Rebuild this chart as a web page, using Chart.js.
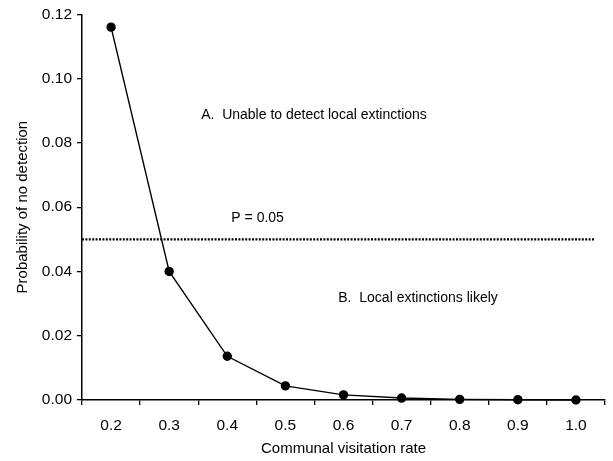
<!DOCTYPE html>
<html>
<head>
<meta charset="utf-8">
<script src="https://cdn.jsdelivr.net/npm/chart.js@4.4.1/dist/chart.umd.min.js"></script>
<style>
  html, body { margin: 0; padding: 0; background: #fff; }
  #wrap { width: 613px; height: 461px; }
</style>
</head>
<body>
<div id="wrap"><canvas id="myChart"></canvas></div>
<script>
// values
const rates = ["0.2", "0.3", "0.4", "0.5", "0.6", "0.7", "0.8", "0.9", "1.0"];
const probNoDetection = [0.116, 0.040, 0.0136, 0.0044, 0.0016, 0.0006, 0.0002, 0.0001, 0.0000];
const yTicks = [0, 0.02, 0.04, 0.06, 0.08, 0.1, 0.12];
const threshold = 0.05;
const thresholdLabel = "P = 0.05";
const regionA = "A.  Unable to detect local extinctions";
const regionB = "B.  Local extinctions likely";

const fontFamily = "'Liberation Sans', Arial, sans-serif";

// text placed in data units (category index, y value)
let notes = [
  { text: regionA, x: 1.55, y: 0.0887 },
  { text: thresholdLabel, x: 2.07, y: 0.0567 },
  { text: regionB, x: 3.91, y: 0.0316 },
];

const annotations = {
  id: "annotations",
  beforeDatasetsDraw(chart) {
    let ctx = chart.ctx;
    let xs = chart.scales.x;
    let ys = chart.scales.y;
    let py = ys.getPixelForValue(threshold);
    ctx.save();
    ctx.strokeStyle = "#000";
    ctx.lineWidth = 2.2;
    ctx.setLineDash([2, 1.4]);
    ctx.beginPath();
    ctx.moveTo(chart.chartArea.left, py);
    ctx.lineTo(chart.chartArea.right - 10, py);
    ctx.stroke();
    ctx.restore();

    ctx.save();
    ctx.fillStyle = "#000";
    ctx.font = "14px " + fontFamily;
    ctx.textBaseline = "middle";
    ctx.textAlign = "left";
    notes.forEach((n) => {
      ctx.fillText(n.text, xs.getPixelForValue(n.x), ys.getPixelForValue(n.y));
    });
    ctx.restore();
  },
};

let ctx = document.getElementById("myChart").getContext("2d");
let chart = new Chart(ctx, {
  type: "line",
  data: {
    labels: rates,
    datasets: [
      {
        data: probNoDetection,
        borderColor: "#000",
        backgroundColor: "#000",
        borderWidth: 1.4,
        pointRadius: 4,
        pointBackgroundColor: "#000",
        pointBorderColor: "#000",
        tension: 0,
        clip: false,
      },
    ],
  },
  plugins: [annotations],
  options: {
    responsive: true,
    maintainAspectRatio: false,
    animation: false,
    layout: { padding: { top: 13, right: 8, left: 0, bottom: 0 } },
    plugins: { legend: { display: false }, tooltip: { enabled: false } },
    scales: {
      x: {
        type: "category",
        offset: true,
        grid: { offset: true, drawOnChartArea: false, drawTicks: true, tickLength: 5, color: "#000", lineWidth: 1.3 },
        border: { display: true, color: "#000", width: 1.5 },
        ticks: { color: "#000", padding: 11, font: { family: fontFamily, size: 15.5 } },
        title: {
          display: true,
          text: "Communal visitation rate",
          color: "#000",
          font: { family: fontFamily, size: 15 },
          padding: { top: 0, bottom: 3 },
        },
        afterFit(scale) {
          scale.height = 61;
        },
      },
      y: {
        min: 0,
        max: 0.12,
        afterBuildTicks(scale) {
          scale.ticks = yTicks.map((v) => ({ value: v }));
        },
        grid: { drawOnChartArea: false, drawTicks: true, tickLength: 5, color: "#000", lineWidth: 1.3 },
        border: { display: true, color: "#000", width: 1.5 },
        ticks: {
          color: "#000",
          padding: 5,
          font: { family: fontFamily, size: 15.5 },
          callback: (v) => Number(v).toFixed(2),
        },
        title: {
          display: true,
          text: "Probability of no detection",
          color: "#000",
          font: { family: fontFamily, size: 15 },
          padding: { top: 14, bottom: 0 },
        },
        afterFit(scale) {
          scale.width = 82;
        },
      },
    },
  },
});
</script>
</body>
</html>
